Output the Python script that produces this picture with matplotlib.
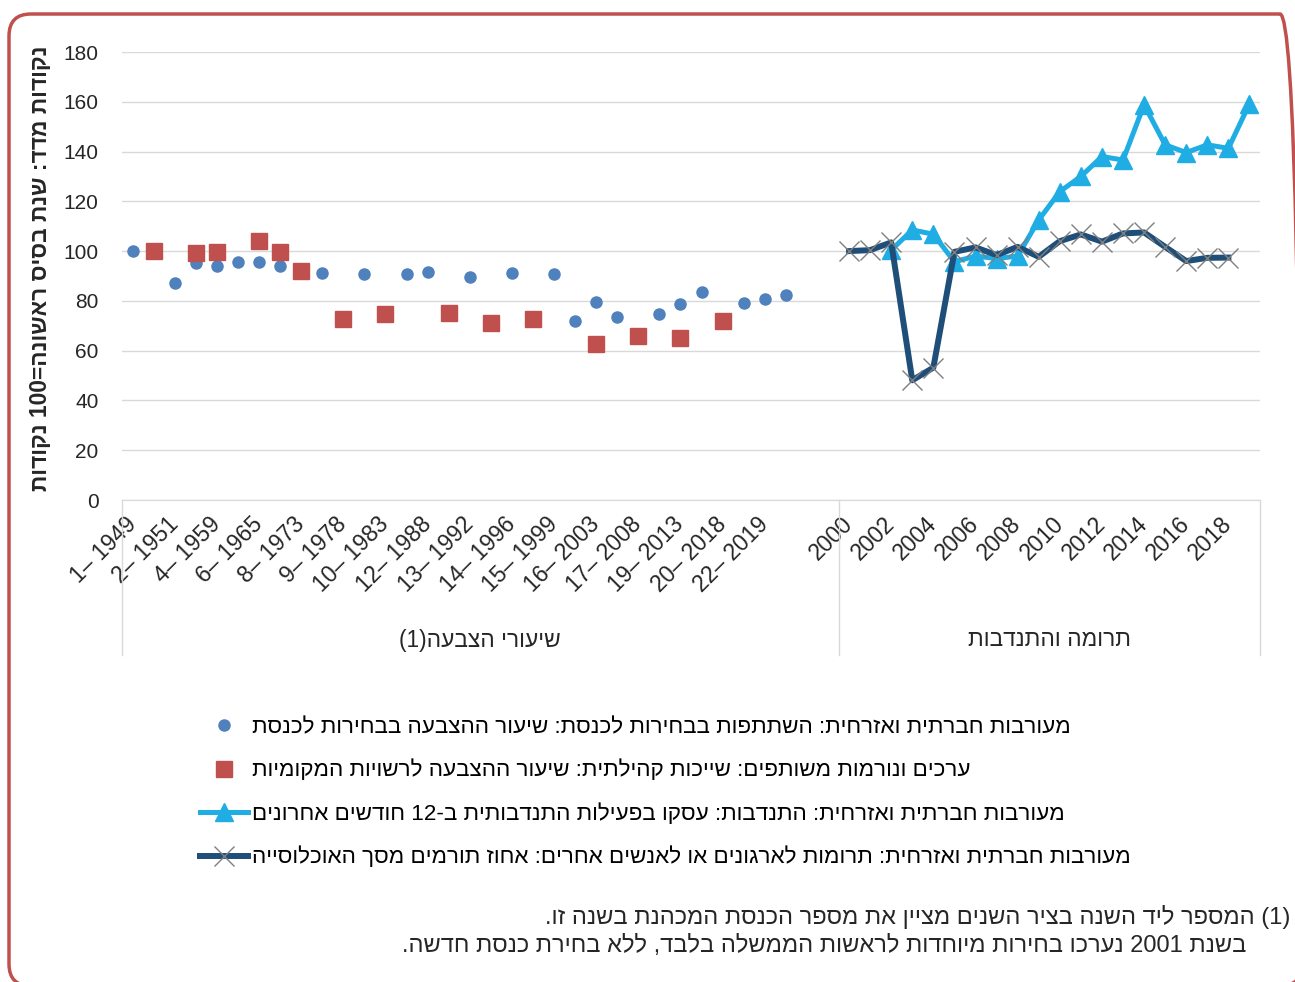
import re
import numpy as np
import matplotlib
matplotlib.use('Agg')
import matplotlib.pyplot as plt
from matplotlib.patches import FancyBboxPatch
from matplotlib.transforms import IdentityTransform

plt.rcParams['font.family'] = ['Liberation Sans', 'DejaVu Sans']

# left block: 34 election slots, a label on every other slot
vote_labels = ['1– 1949', '2– 1951', '4– 1959', '6– 1965', '8– 1973', '9– 1978',
               '10– 1983', '12– 1988', '13– 1992', '14– 1996', '15– 1999',
               '16– 2003', '17– 2008', '19– 2013', '20– 2018', '22– 2019']
knesset_turnout = [100, None, 87, 95.4, 94, 95.8, 95.8, 94, None, 91.3,
                   None, 90.8, None, 90.8, 91.8, None, 89.7, None, 91.3, None,
                   90.8, 71.9, 79.7, 73.4, None, 74.7, 78.6, 83.6, None, 79.3,
                   80.6, 82.5, None, None]
local_turnout = [None, 100.2, None, 99.1, 99.8, None, 104.2, 99.6, 92, None,
                 72.6, None, 74.7, None, None, 75.3, None, 71.0, None, 72.6,
                 None, None, 62.5, None, 65.9, None, 65.0, None, 72.0, None,
                 None, None, None, None]

# right block: yearly survey
years = list(range(2000, 2020))
volunteering = [None, None, 100.4, 108.5, 106.8, 95.7, 98, 97, 98, 112.5,
                123.9, 130, 138, 136.6, 158.8, 142.7, 139.6, 142.7, 141.3, 159.2]
donations = [100, 100.4, 103.5, 48.1, 53.2, 99.7, 101.5, 98.4, 101.7, 97.7,
             104, 106.7, 103.8, 107.1, 107.5, 101.7, 96, 97.3, 97.4, None]

group_names = ['שיעורי הצבעה(1)', 'תרומה והתנדבות']
series_names = [
    'מעורבות חברתית ואזרחית: השתתפות בבחירות לכנסת: שיעור ההצבעה בבחירות לכנסת',
    'ערכים ונורמות משותפים: שייכות קהילתית: שיעור ההצבעה לרשויות המקומיות',
    'מעורבות חברתית ואזרחית: התנדבות: עסקו בפעילות התנדבותית ב-12 חודשים אחרונים',
    'מעורבות חברתית ואזרחית: תרומות לארגונים או לאנשים אחרים: אחוז תורמים מסך האוכלוסייה',
]
y_title = 'נקודות מדד: שנת בסיס ראשונה=100 נקודות'
footnotes = ['(1) המספר ליד השנה בציר השנים מציין את מספר הכנסת המכהנת בשנה זו.',
             'בשנת 2001 נערכו בחירות מיוחדות לראשות הממשלה בלבד, ללא בחירת כנסת חדשה.']


def rtl(s):
    # matplotlib lays glyphs left to right, so hand it the visual order
    v = s[::-1].translate(str.maketrans('()', ')('))
    return re.sub(r'\d+', lambda m: m.group(0)[::-1], v)


W, H = 1295, 982
fig = plt.figure(figsize=(W / 100, H / 100), dpi=100)
ax = fig.add_axes([122 / W, 1 - 500 / H, (1260 - 122) / W, (500 - 52) / H])

n_left = len(knesset_turnout)
x_left = np.arange(n_left)
x_right = n_left + np.arange(len(years))

h1, = ax.plot(x_left, np.array(knesset_turnout, dtype=float), ls='none', marker='o',
              ms=8, color='#4F81BD', zorder=3)
h2, = ax.plot(x_left, np.array(local_turnout, dtype=float), ls='none', marker='s',
              ms=11.5, color='#C0504D', zorder=3)
h3, = ax.plot(x_right, np.array(volunteering, dtype=float), '-^', color='#1FADE4',
              lw=3.6, ms=13, zorder=4)
h4, = ax.plot(x_right, np.array(donations, dtype=float), '-', color='#1F4E79', lw=4.3,
              marker='x', ms=14, mec='#7F7F7F', mew=1, zorder=5)

ax.set_xlim(-0.5, n_left + len(years) - 0.5)
ax.set_ylim(0, 180)
ax.set_yticks(np.arange(0, 181, 20))
ax.grid(axis='y', color='#D9D9D9', lw=1)
ax.set_axisbelow(True)
for s in ['top', 'right', 'left']:
    ax.spines[s].set_visible(False)
ax.spines['bottom'].set_color('#D9D9D9')

tick_pos = list(x_left[::2][:len(vote_labels)]) + list(x_right[::2])
tick_lab = vote_labels + [str(y) for y in years[::2]]
ax.set_xticks(tick_pos, tick_lab, rotation=45, ha='right', va='center',
              rotation_mode='anchor')
ax.tick_params(axis='x', length=0, pad=15, labelsize=16.5, labelcolor='#262626')
ax.tick_params(axis='y', length=0, pad=17, labelsize=15, labelcolor='#262626')

# two-level category axis: separators and group names
tr = ax.get_xaxis_transform()
for xv in [-0.5, n_left - 0.5, n_left + len(years) - 0.5]:
    ax.plot([xv, xv], [0, -0.346], color='#D9D9D9', lw=1, transform=tr, clip_on=False)
ax.text((n_left - 1) / 2, -0.3125, rtl(group_names[0]), transform=tr, ha='center',
        va='center', fontsize=16.4, color='#262626')
ax.text(n_left + (len(years) - 1) / 2, -0.3125, rtl(group_names[1]), transform=tr,
        ha='center', va='center', fontsize=16.4, color='#262626')

fig.text(41 / W, 1 - 268 / H, rtl(y_title), rotation=90, ha='center', va='center',
         fontsize=16.4, fontweight='bold', color='#262626')

fig.legend([h1, h2, h3, h4], [rtl(t) for t in series_names], loc='upper left',
           bbox_to_anchor=(200 / W, 1 - 717 / H), frameon=False, fontsize=16.2,
           handlelength=2.15, handletextpad=0.15, labelspacing=0.97,
           borderpad=0, borderaxespad=0)

fig.text(1290 / W, 1 - 917 / H, rtl(footnotes[0]), ha='right', va='center',
         fontsize=17, color='#262626')
fig.text(1246 / W, 1 - 946 / H, rtl(footnotes[1]), ha='right', va='center',
         fontsize=17, color='#262626')

frame = FancyBboxPatch((9, H - 986), 1293, 972, boxstyle='round,pad=0,rounding_size=22',
                       fill=False, ec='#C0504D', lw=2.5, transform=IdentityTransform())
fig.add_artist(frame)

fig.savefig('out.png', dpi=100)
